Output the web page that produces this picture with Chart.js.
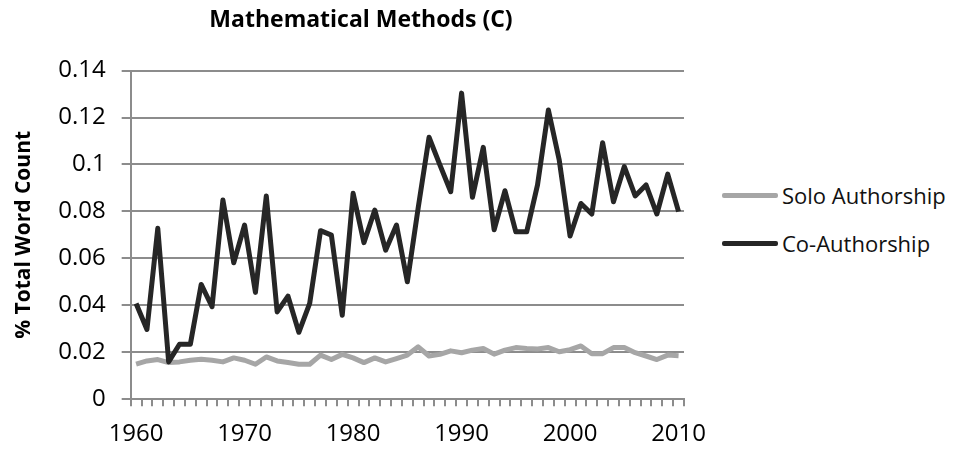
<!DOCTYPE html>
<html>
<head>
<meta charset="utf-8">
<script src="https://cdn.jsdelivr.net/npm/chart.js@4"></script>
<style>
    body { margin: 0; background: #fff; }
    #wrap { position: relative; width: 959px; height: 449px; }
    #chart-box { position: absolute; left: 0; top: 0; width: 722px; height: 449px; }
    #legend { position: absolute; left: 722px; top: 0; font-family: "Open Sans", sans-serif; font-size: 22px; color: #111; }
    .legend-item { position: absolute; left: 0; display: flex; align-items: center; white-space: nowrap; }
    .legend-line { width: 56px; height: 5px; margin-right: 4px; border-radius: 2px; }
</style>
</head>
<body>
<div id="wrap">
    <div id="chart-box"><canvas id="chart"></canvas></div>
    <div id="legend"></div>
</div>
<script>
// Data
const years = [
    1960, 1961, 1962, 1963, 1964, 1965, 1966, 1967, 1968, 1969,
    1970, 1971, 1972, 1973, 1974, 1975, 1976, 1977, 1978, 1979,
    1980, 1981, 1982, 1983, 1984, 1985, 1986, 1987, 1988, 1989,
    1990, 1991, 1992, 1993, 1994, 1995, 1996, 1997, 1998, 1999,
    2000, 2001, 2002, 2003, 2004, 2005, 2006, 2007, 2008, 2009,
    2010
];

const soloAuthorship = [
    0.0149, 0.0163, 0.0169, 0.0156, 0.0159, 0.0166, 0.0170, 0.0166, 0.0159, 0.0176,
    0.0166, 0.0149, 0.0180, 0.0163, 0.0156, 0.0149, 0.0149, 0.0188, 0.0169, 0.0191,
    0.0176, 0.0156, 0.0176, 0.0159, 0.0173, 0.0188, 0.0223, 0.0184, 0.0191, 0.0206,
    0.0198, 0.0209, 0.0216, 0.0192, 0.0209, 0.0220, 0.0216, 0.0214, 0.0220, 0.0202,
    0.0211, 0.0227, 0.0194, 0.0194, 0.0220, 0.0220, 0.0198, 0.0184, 0.0169, 0.0188,
    0.0185
];

const coAuthorship = [
    0.0408, 0.0297, 0.0728, 0.0159, 0.0234, 0.0234, 0.0489, 0.0394, 0.0849, 0.0581,
    0.0742, 0.0455, 0.0866, 0.0372, 0.0439, 0.0285, 0.0408, 0.0718, 0.0699, 0.0358,
    0.0877, 0.0667, 0.0806, 0.0635, 0.0742, 0.0500, 0.0815, 0.1116, 0.0998, 0.0884,
    0.1304, 0.0860, 0.1073, 0.0722, 0.0888, 0.0713, 0.0713, 0.0913, 0.1232, 0.1019,
    0.0695, 0.0834, 0.0789, 0.1093, 0.0841, 0.0991, 0.0866, 0.0913, 0.0789, 0.0959,
    0.0799
];

const yMin = 0;
const yMax = 0.14;
const yStep = 0.02;

const GRID = '#8c8c8c';
const TICK_FONT = { family: '"Open Sans", sans-serif', size: 24 };

// HTML legend built from the chart's datasets
const htmlLegend = {
    id: 'htmlLegend',
    afterUpdate(chart) {
        const box = document.getElementById('legend');
        box.innerHTML = '';
        chart.data.datasets.forEach((ds, i) => {
            const item = document.createElement('div');
            item.className = 'legend-item';
            item.style.top = (180 + i * 48) + 'px';
            item.innerHTML = `<span class="legend-line" style="background:${ds.borderColor}"></span><span>${ds.label}</span>`;
            box.appendChild(item);
        });
    }
};

const ctx = document.getElementById('chart').getContext('2d');
new Chart(ctx, {
    type: 'line',
    data: {
        labels: years,
        datasets: [
            {
                label: 'Solo Authorship',
                data: soloAuthorship,
                borderColor: '#a6a6a6',
                backgroundColor: '#a6a6a6',
                borderWidth: 5,
                pointRadius: 0,
                tension: 0,
                borderJoinStyle: 'round',
                order: 2
            },
            {
                label: 'Co-Authorship',
                data: coAuthorship,
                borderColor: '#262626',
                backgroundColor: '#262626',
                borderWidth: 5,
                pointRadius: 0,
                tension: 0,
                borderJoinStyle: 'round',
                order: 1
            }
        ]
    },
    options: {
        responsive: true,
        maintainAspectRatio: false,
        animation: false,
        layout: { padding: { left: 0, right: 0, top: 0, bottom: -14 } },
        plugins: {
            legend: { display: false },
            tooltip: { enabled: false },
            title: {
                display: true,
                text: 'Mathematical Methods (C)',
                color: '#000',
                font: { family: '"Open Sans", sans-serif', size: 23, weight: 'bold' },
                padding: { top: 7, bottom: 36 }
            }
        },
        scales: {
            x: {
                type: 'category',
                offset: true,
                grid: {
                    offset: true,
                    drawOnChartArea: false,
                    drawTicks: true,
                    tickLength: 7,
                    color: GRID,
                    lineWidth: 2
                },
                border: { display: true, color: GRID, width: 2 },
                ticks: {
                    autoSkip: false,
                    maxRotation: 0,
                    padding: 14,
                    color: '#000',
                    font: TICK_FONT,
                    callback: function (value, index) {
                        const y = years[index];
                        return y % 10 === 0 ? String(y) : '';
                    }
                }
            },
            y: {
                min: yMin,
                max: yMax,
                grid: {
                    color: GRID,
                    lineWidth: 2,
                    drawTicks: true,
                    tickLength: 9
                },
                border: { display: true, color: GRID, width: 2 },
                ticks: {
                    stepSize: yStep,
                    padding: 16,
                    color: '#000',
                    font: TICK_FONT,
                    callback: v => String(+v.toFixed(2))
                },
                title: {
                    display: true,
                    text: '% Total Word Count',
                    color: '#000',
                    font: { family: '"Open Sans", sans-serif', size: 21, weight: 'bold' },
                    padding: { top: 11, bottom: 6 }
                }
            },
            // empty strip on the right so the plot ends where the legend column starts
            spacer: {
                position: 'right',
                display: true,
                grid: { display: false, drawTicks: false },
                border: { display: false },
                ticks: { display: false },
                afterFit(scale) { scale.width = 38; }
            }
        }
    },
    plugins: [htmlLegend]
});
</script>
</body>
</html>
